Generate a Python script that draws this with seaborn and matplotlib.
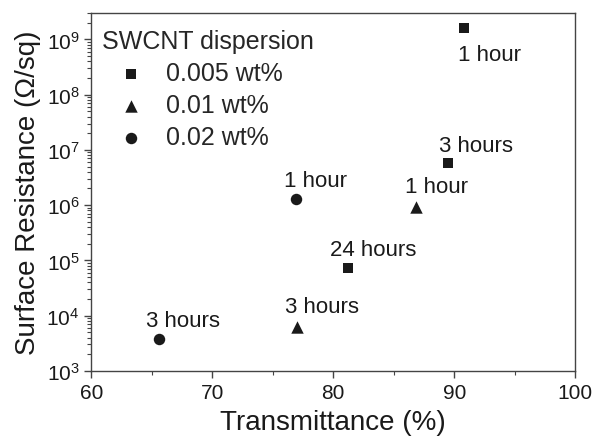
import pandas as pd
import seaborn as sns
import matplotlib
matplotlib.use("Agg")
from matplotlib import pyplot as plt
from matplotlib.ticker import LogLocator, MultipleLocator

# values
groups = ["0.005 wt%", "0.01 wt%", "0.02 wt%"]
transmittance = {
    "0.005 wt%": [90.8, 89.5, 81.2],
    "0.01 wt%": [86.8, 77.0],
    "0.02 wt%": [76.9, 65.6],
}
resistance = {
    "0.005 wt%": [1.6e9, 5.7e6, 7.3e4],
    "0.01 wt%": [9.3e5, 6.3e3],
    "0.02 wt%": [1.3e6, 3.8e3],
}
durations = {
    "0.005 wt%": ["1 hour", "3 hours", "24 hours"],
    "0.01 wt%": ["1 hour", "3 hours"],
    "0.02 wt%": ["1 hour", "3 hours"],
}
# label anchor points (text centre x, baseline y)
label_x = {
    "0.005 wt%": [92.9, 91.8, 83.3],
    "0.01 wt%": [88.5, 79.1],
    "0.02 wt%": [78.5, 67.6],
}
label_y = {
    "0.005 wt%": [10**8.62, 10**6.98, 10**5.1],
    "0.01 wt%": [10**6.24, 10**4.07],
    "0.02 wt%": [10**6.35, 10**3.81],
}

rows = []
for g in groups:
    for t, r, d in zip(transmittance[g], resistance[g], durations[g]):
        rows.append({"group": g, "T": t, "R": r, "time": d})
df = pd.DataFrame(rows)

sns.set_style("ticks")
plt.rcParams["font.family"] = ["Liberation Sans", "DejaVu Sans"]
plt.rcParams["mathtext.fontset"] = "custom"
plt.rcParams["mathtext.rm"] = "Liberation Sans"
plt.rcParams["mathtext.it"] = "Liberation Sans:italic"

ink = "#1a1a1a"
markers = {"0.005 wt%": "s", "0.01 wt%": "^", "0.02 wt%": "o"}
msize = {"0.005 wt%": 48, "0.01 wt%": 80, "0.02 wt%": 68}

fig = plt.figure(figsize=(5.93, 4.39), dpi=100)
ax = fig.add_axes([0.154, 0.153, 0.816, 0.815])

for g in groups:
    sub = df[df["group"] == g]
    sns.scatterplot(data=sub, x="T", y="R", marker=markers[g], s=msize[g],
                    color=ink, edgecolor=ink, linewidth=0, label=g, ax=ax)
    for tx, ty, d in zip(label_x[g], label_y[g], durations[g]):
        ax.text(tx, ty, d, ha="center", va="baseline", fontsize=16, color=ink)

ax.set_yscale("log")
ax.set_xlim(60, 100)
ax.set_ylim(1e3, 3e9)
ax.xaxis.set_major_locator(MultipleLocator(10))
ax.xaxis.set_minor_locator(MultipleLocator(5))
ax.yaxis.set_major_locator(LogLocator(base=10, numticks=20))
ax.yaxis.set_minor_locator(LogLocator(base=10, subs=range(2, 10), numticks=20))

ax.tick_params(which="major", direction="out", length=5, width=1, colors="#444444",
               labelcolor=ink, labelsize=15)
ax.tick_params(which="minor", direction="out", length=3, width=0.8, colors="#444444")
ax.tick_params(axis="x", pad=4)
for side in ["top", "right", "left", "bottom"]:
    ax.spines[side].set_visible(True)
    ax.spines[side].set_color("#444444")
    ax.spines[side].set_linewidth(1)

ax.set_xlabel("Transmittance (%)", fontsize=20, color=ink, labelpad=5)
ax.set_ylabel("Surface Resistance (Ω/sq)", fontsize=20, color=ink, labelpad=4)

leg = ax.legend(title="SWCNT dispersion", loc="upper left",
                bbox_to_anchor=(-0.004, 0.99), frameon=False,
                fontsize=18, title_fontsize=18, alignment="left",
                handletextpad=0.26, handlelength=2.3, labelspacing=0.32,
                borderaxespad=0.0, borderpad=0.5)

fig.savefig("out.png", dpi=100)
